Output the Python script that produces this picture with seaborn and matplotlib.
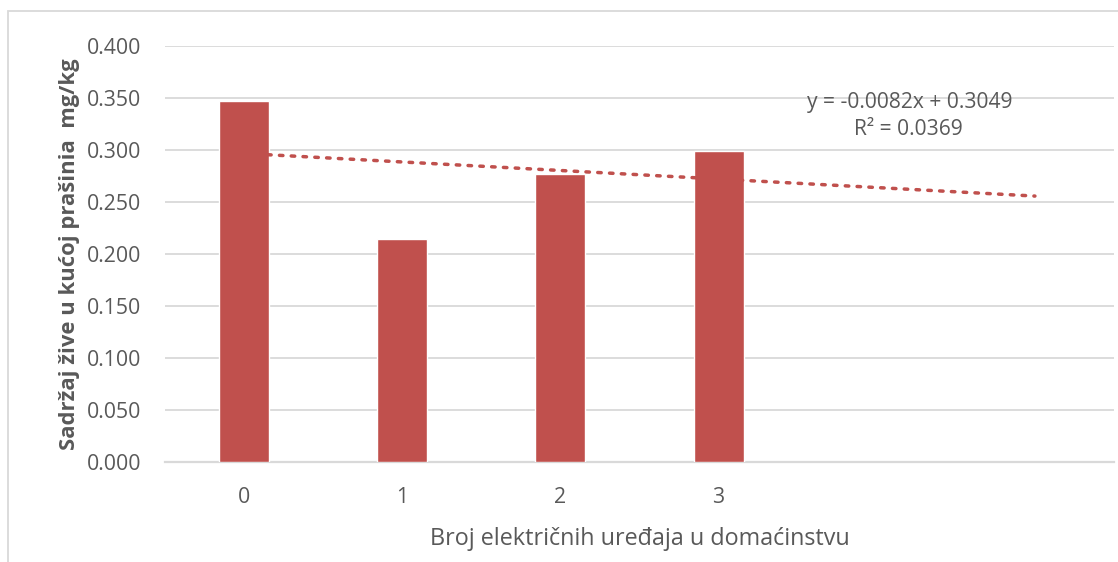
import matplotlib
matplotlib.use("Agg")
import matplotlib.pyplot as plt
import seaborn as sns
import numpy as np
import pandas as pd
from matplotlib.patches import Rectangle

categories = ["0", "1", "2", "3"]
values = [0.347, 0.214, 0.277, 0.299]
trend_slope = -0.0082
trend_intercept = 0.3049
trend_forward = 2
eq_text = "y = -0.0082x + 0.3049"
r2_text = "R² = 0.0369"
x_label = "Broj električnih uređaja u domaćinstvu"
y_label = "Sadržaj žive u kućoj prašinia  mg/kg"

sns.set_theme(style="white")
plt.rcParams['font.family'] = ['Open Sans', 'DejaVu Sans']

bar_color = "#C0504D"
text_color = "#595959"
grid_color = "#D9D9D9"

fig = plt.figure(figsize=(11.18, 5.62), dpi=100)
ax = fig.add_axes([165/1118, 1-462/562, (1114-165)/1118, (462-46)/562])

df = pd.DataFrame({"cat": categories, "val": values})
sns.barplot(data=df, x="cat", y="val", order=categories, color=bar_color,
            saturation=1, width=0.316, ax=ax, zorder=3)

n_slots = len(categories) + trend_forward
ax.set_xlim(-0.5, n_slots - 0.5)
ax.set_ylim(0, 0.4)
ax.set_yticks(np.arange(0, 0.4001, 0.05))
ax.set_yticklabels([f"{v:.3f}" for v in np.arange(0, 0.4001, 0.05)])
ax.set_xticks(range(len(categories)))
ax.set_xticklabels(categories)

# trendline (Excel x = position + 1)
tx = np.linspace(0, n_slots - 1, 50)
ty = trend_slope * (tx + 1) + trend_intercept
ax.plot(tx, ty, linestyle=(0, (1, 2.4)), color=bar_color, linewidth=2.5,
        dash_capstyle="round", zorder=4)

ax.yaxis.grid(True, color=grid_color, linewidth=1.3, zorder=0)
ax.set_axisbelow(True)
for s in ["top", "right", "left"]:
    ax.spines[s].set_visible(False)
ax.spines["bottom"].set_color(grid_color)
ax.spines["bottom"].set_linewidth(1.6)
ax.tick_params(axis="both", length=0, labelsize=15.3, colors=text_color)
ax.tick_params(axis="x", pad=18)
ax.tick_params(axis="y", pad=17)

ax.set_xlabel(x_label, fontsize=16.8, color=text_color, labelpad=14)
ax.set_ylabel(y_label, fontsize=15.8, color=text_color, fontweight="bold", labelpad=5)

ax.text(0.785, 0.865, eq_text, transform=ax.transAxes, ha="center", va="center",
        fontsize=15.1, color=text_color)
ax.text(0.783, 0.80, r2_text, transform=ax.transAxes, ha="center", va="center",
        fontsize=15.1, color=text_color)

fig.patches.append(Rectangle((8/1118, -0.1), 1.2, (562-11)/562 + 0.1,
                             transform=fig.transFigure, fill=False,
                             edgecolor="#D9D9D9", linewidth=1.3))

fig.savefig("out.png", dpi=100)
